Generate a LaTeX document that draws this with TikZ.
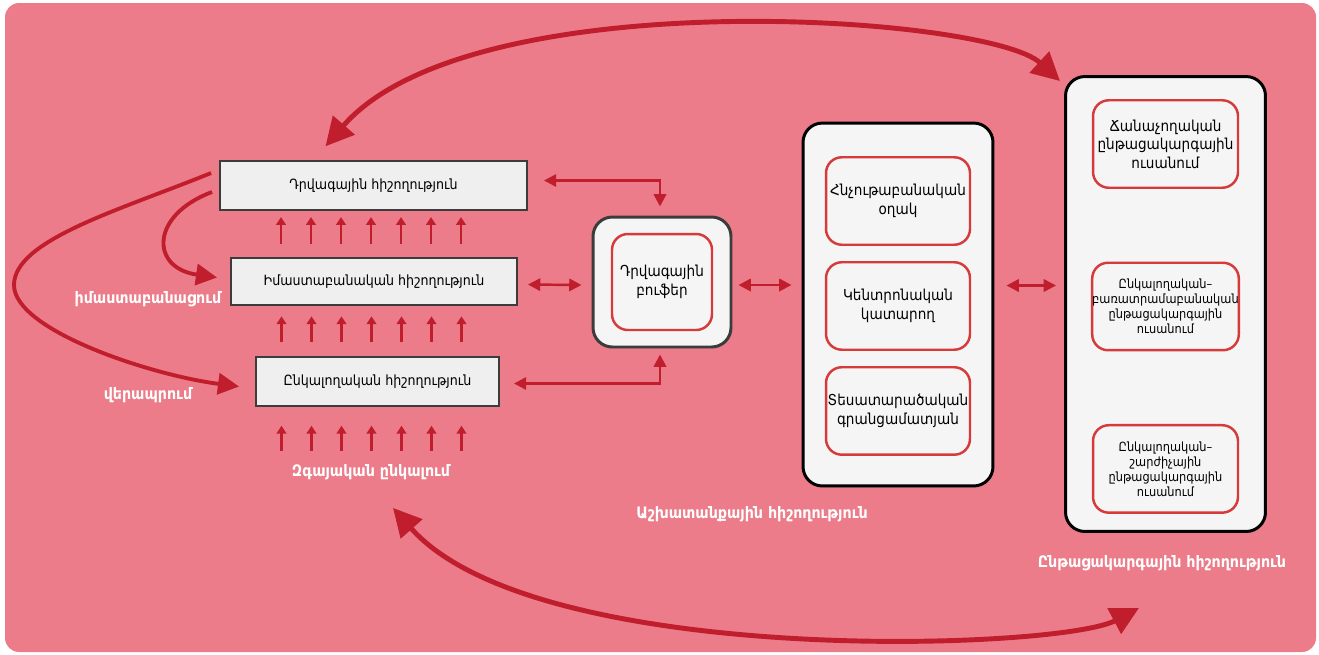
\documentclass[tikz,border=0pt]{standalone}
\usepackage{fontspec}
\setmainfont{DejaVu Sans Condensed}
\usepackage{xcolor}
\usepackage{tikz}
\usetikzlibrary{
    shapes,
    positioning,
    shadows,
    calc,
    arrows.meta
}
\definecolor{pinkbg}{RGB}{236,124,137}
\definecolor{arrowred}{RGB}{192,30,45}
\definecolor{boxred}{RGB}{214,58,58}
\definecolor{boxgray}{RGB}{239,239,239}
\definecolor{boxwhite}{RGB}{245,245,245}
\definecolor{framegray}{RGB}{60,60,60}
\tikzset{
  memory/.style = {
      draw=framegray,
      line width=1.1pt,
      fill=boxgray,
      rectangle,
      drop shadow={opacity=0.3, shadow xshift=0.5pt, shadow yshift=-0.8pt},
      font=\fontsize{8}{9.5}\selectfont,
      align=center,
      inner sep=0pt,
      minimum height=0.97cm
  },
  bigbox/.style = {
      draw=black,
      line width=1.7pt,
      fill=boxwhite,
      rounded corners=11pt,
      drop shadow={opacity=0.3, shadow xshift=0.4pt, shadow yshift=-0.9pt},
      inner sep=0pt
  },
  subbox/.style = {
      draw=boxred,
      line width=1.4pt,
      fill=boxwhite,
      rounded corners=9pt,
      align=center,
      inner sep=0pt,
      font=\fontsize{8.6}{10.6}\selectfont,
      minimum width=2.88cm,
      minimum height=1.75cm
  },
  small/.style = {
      font=\fontsize{7.2}{8.6}\selectfont
  },
  caption/.style = {
      text=white,
      font=\bfseries\fontsize{9}{11}\selectfont
  },
  flow/.style = {
      draw=arrowred,
      line width=1.4pt,
      {Triangle[length=7pt,width=7pt]}-{Triangle[length=7pt,width=7pt]}
  },
  rise/.style = {
      draw=arrowred,
      line width=1.6pt,
      -{Triangle[length=4.5pt,width=5.5pt]}
  },
  recall/.style = {
      draw=arrowred,
      line width=2.2pt,
      -{Triangle[length=12pt,width=12pt]}
  },
  longarc/.style = {
      draw=arrowred,
      line width=2.8pt,
      {Triangle[length=16pt,width=16pt]}-{Triangle[length=16pt,width=16pt]}
  }
}

\begin{document}
\begin{tikzpicture}[x=0.02cm, y=-0.02cm, node distance=2.1cm]
        \useasboundingbox (0,0) rectangle (1319,654);
        \fill[pinkbg, rounded corners=8pt] (5,3) rectangle (1316,652);
        % Long-term stores
        \node[memory, minimum width=6.14cm] (epi) at (373.5,185.5) {Դրվագային հիշողություն};
        \node[memory, minimum width=5.72cm, minimum height=0.94cm] (sem) at (374,281.5) {Իմաստաբանական հիշողություն};
        \node[memory, minimum width=4.86cm] (per) at (377.5,381.5) {Ընկալողական հիշողություն};
        % Buffer
        \node[bigbox, draw=framegray, minimum width=2.76cm, minimum height=2.6cm] (buf) at (662,282) {};
        \node[subbox, minimum width=2cm, minimum height=1.92cm] (bufin) at (662,282) {Դրվագային\\բուֆեր};
        % Working memory
        \node[bigbox, minimum width=3.8cm, minimum height=7.26cm] (wm) at (898,304.5) {};
        \node[subbox] (wm1) at (898,201) {Հնչութաբանական\\օղակ};
        \node[subbox, below of=wm1] (wm2) {Կենտրոնական\\կատարող};
        \node[subbox, below of=wm2] (wm3) {Տեսատարածական\\գրանցամատյան};
        % Procedural memory
        \node[bigbox, minimum width=4cm, minimum height=9.1cm] (proc) at (1165.5,304) {};
        \node[subbox, minimum width=2.9cm] (pr1) at (1165.5,144) {Ճանաչողական\\ընթացակարգային\\ուսանում};
        \node[subbox, small, minimum width=2.9cm, below of=pr1, node distance=3.25cm] (pr2) {Ընկալողական–\\բառատրամաբանական\\ընթացակարգային\\ուսանում};
        \node[subbox, small, minimum width=2.9cm, below of=pr2, node distance=3.25cm] (pr3) {Ընկալողական–\\շարժիչային\\ընթացակարգային\\ուսանում};
        % Labels
        \node[caption] (lsem) at (148,299) {իմաստաբանացում};
        \node[caption] (lrec) at (148,395) {վերապրում};
        \node[caption] (lsens) at (371,472) {Զգայական ընկալում};
        \node[caption] (lwm) at (752,514) {Աշխատանքային հիշողություն};
        \node[caption] (lproc) at (1162,563) {Ընթացակարգային հիշողություն};
        % Edges
        \foreach \dx in {-90,-60,...,90} {
            \draw[rise] ($(sem.north)+(\dx-3,-13)$) -- ++(0,-27);
            \draw[rise] ($(per.north)+(\dx-6,-14)$) -- ++(0,-26);
            \draw[rise] ($(per.south)+(\dx-6,44)$) -- ++(0,-25);
        }
        \draw[flow] ([shift={(16,-5)}]epi.east) -| ([shift={(-2,-9)}]buf.north);
        \draw[flow] ([shift={(10,3)}]sem.east) -- ([shift={(-10,3)}]buf.west);
        \draw[flow] ([shift={(14,2)}]per.east) -| ([shift={(-2,6)}]buf.south);
        \draw[flow] ([shift={(6,3)}]buf.east) -- ([shift={(-10,3)}]buf.east -| wm.west);
        \draw[flow] ([shift={(12,-19)}]wm.east) -- ([shift={(-8,-19)}]wm.east -| proc.west);
        \draw[recall] ([shift={(-7,6.5)}]epi.west)
            .. controls (150,215) and (150,268) .. ([shift={(-13,-4)}]sem.west);
        \draw[recall] ([shift={(-8,-12.5)}]epi.west)
            .. controls (120,210) and (14,240) .. (14,285)
            .. controls (14,330) and (150,375) .. ([shift={(-16,5)}]per.west);
        \draw[longarc] ([shift={(-48,-14)}]epi.north)
            .. controls (470,-20) and (988,15) .. ([shift={(-4,6)}]proc.north west);
        \draw[longarc] ([shift={(22,22)}]lsens.south)
            .. controls (536,669) and (1060,650) .. ([shift={(-23,31)}]lproc.south);
    \end{tikzpicture}
\end{document}
